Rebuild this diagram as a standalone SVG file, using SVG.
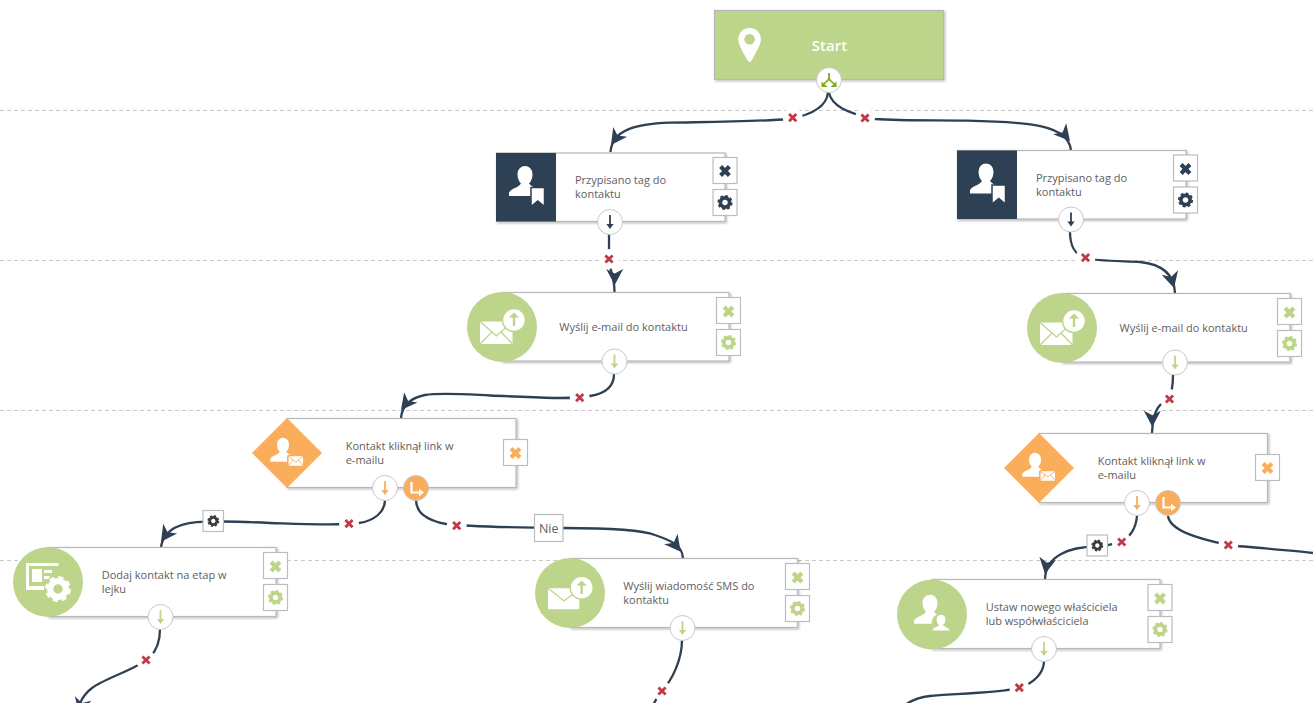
<svg xmlns="http://www.w3.org/2000/svg" xmlns:xlink="http://www.w3.org/1999/xlink" width="1313" height="703" viewBox="0 0 1313 703">
<style>
text{font-family:"Open Sans","Noto Sans","Liberation Sans",sans-serif;font-size:11px;fill:#606060}
.dash{stroke:#c9c9c9;stroke-width:1;stroke-dasharray:4 3;fill:none}
.c{fill:none;stroke:#2e4053;stroke-width:2.3;stroke-linecap:butt}
.box{fill:#fff;stroke:#b7b7b7;stroke-width:1.2;filter:url(#sh)}
.btn{fill:#fff;stroke:#bdbdbd;stroke-width:1.2}
.port{fill:#fff;stroke:#c8c8c8;stroke-width:1}
.dk{color:#2e4053}.gr{color:#bdd58b}.or{color:#faae5b}.gy{color:#3c3c3c}
.green{fill:#bdd58b}.orange{fill:#faae5b}.dark{fill:#2e4053}
</style>
<defs>
<filter id="sh" x="-5%" y="-5%" width="110%" height="115%"><feDropShadow dx="1.2" dy="1.2" stdDeviation="0.8" flood-color="#000" flood-opacity="0.3"/></filter>
<path id="ah" d="M0 0L-16 -8.500L-11.500 0L-16 8.500Z" fill="#2e4053"/>
<g id="x"><circle r="10" fill="#fff"/><path d="M-3.600 -3.600L3.600 3.600M-3.600 3.600L3.600 -3.600" fill="none" stroke="#bf3a45" stroke-width="2.800"/></g>
<path id="bx" d="M-4.400 -4.400L4.400 4.400M-4.400 4.400L4.400 -4.400" fill="none" stroke="currentColor" stroke-width="4.200"/>
<g id="gear" fill="none" stroke="currentColor"><circle r="4.600" stroke-width="3.600"/><circle r="6.700" stroke-width="1.800" stroke-dasharray="2.900 2.360"/></g>
<g id="down"><path d="M0 -7V3" fill="none" stroke="currentColor" stroke-width="1.800"/><path d="M-3.600 2H3.600L0 7Z" fill="currentColor"/></g>
<g id="turn"><path d="M-4.500 -6V4.500H4" fill="none" stroke="#fff" stroke-width="2.200"/><path d="M3 0.800L8 4.500L3 8.200Z" fill="#fff"/></g>
<path id="person" fill="#fff" d="M-16 21V17.500C-13 13 -7 13 -4 8.500Q-7.500 5 -7.500 -1A7.500 8 0 0 1 7.500 -1Q7.500 5 4 8.500C6 11 8 12 11 13V21Z"/>
<path id="pbody" fill="#fff" d="M-8.500 9.500C-8 6 -3 6 -2 4Q-4.500 2 -4.500 -1.500A4.500 4.800 0 0 1 4.500 -1.500Q4.500 2 2 4C3 6 8 6 8.500 9.500Z"/>
<g id="tagico"><use href="#person"/><path d="M6 12.500H19.500V31.500L12.800 26L6 31.500Z" fill="#fff" stroke="#2e4053" stroke-width="1.500"/></g>
<g id="mailup"><rect x="-22" y="-5.500" width="32.500" height="22.500" rx="0.500" fill="#fff"/><path d="M-22 -5.500L-5.500 9L10.500 -5.500M-22 17L-10 5M10.500 17L-1 5" fill="none" stroke="#bdd58b" stroke-width="1.300"/><circle cx="12" cy="-7" r="11.500" fill="#fff" stroke="#bdd58b" stroke-width="1.500"/><path d="M12 -1V-11" stroke="#bdd58b" stroke-width="2.400" fill="none"/><path d="M6.800 -9.500L12 -14.500L17.200 -9.500Z" fill="#bdd58b"/></g>
<g id="smsup"><rect x="-22" y="-4.700" width="31.300" height="21" rx="1.500" fill="#fff"/><path d="M-22 -5L-6 8L10 -4" fill="none" stroke="#bdd58b" stroke-width="1.300"/><circle cx="11.700" cy="-5.300" r="11.500" fill="#fff" stroke="#bdd58b" stroke-width="1.500"/><path d="M11.700 1V-9" stroke="#bdd58b" stroke-width="2.400" fill="none"/><path d="M6.500 -7.500L11.700 -12.500L16.900 -7.500Z" fill="#bdd58b"/></g>
<g id="clickico"><use href="#person" transform="translate(-4 -8) scale(.8)"/><rect x="0.800" y="2.500" width="16" height="11" rx="1.200" fill="#fff" stroke="#faae5b" stroke-width="1.500"/><path d="M1 3L8.800 9L16.500 3M1 13L6 7M16.500 13L11.500 7" fill="none" stroke="#faae5b" stroke-width="0.900"/></g>
</defs>

<g id="grid">
<path class="dash" d="M0 110.500H1313M0 260.500H1313M0 410.500H1313M0 560.500H1313"/>
</g>

<g id="connectors">
<path class="c" d="M828 92C827 108 810 115 790 119C750 122 700 122 670 122.700C635 124 612 130 610.500 152"/>
<path class="c" d="M829 93C832 105 845 113 875 119C905 121 940 120 967 120.700C1030 122 1068 125 1071 150"/>
<path class="c" d="M609 234V258C609 270 614.500 275 614.500 292"/>
<path class="c" d="M1070 232C1070 245 1075 255 1085 258C1095 261 1120 261 1140 262C1160 264 1174 272 1175 293"/>
<path class="c" d="M614 374C614 388 603 394 590 396C570 400 530 397 490 395.500C460 394 440 392.500 425 395C410 398 402 406 401 418"/>
<path class="c" d="M1173 375C1173 385 1172 392 1169 399C1160 403.500 1153 408 1152 433"/>
<path class="c" d="M385 500C385 512 374 521 359 523C340 526 300 524 270 523C250 522 235 521.500 222 521.500C195 521 165 522 161 547"/>
<path class="c" d="M416 500C416 514 430 521 446 524C470 527 510 527.500 563 528C600 528 640 529 655 535C672 541 682 545 683 558"/>
<path class="c" d="M1137 516C1136 528 1130 538 1121 541C1115 544 1105 546 1096 546.500C1070 547 1046 555 1045 579"/>
<path class="c" d="M1168 516C1170 530 1195 538 1228 545C1255 548 1290 550 1313 553"/>
<path class="c" d="M160 629C160 640 157 650 150 657C140 668 105 678 92 688C84 694 79 703 78 712"/>
<path class="c" d="M682 640C682 660 672 680 662 691C658 696 655 700 653 706"/>
<path class="c" d="M1044 661C1044 672 1035 683 1019 688C1000 693 950 694 930 696C920 697 912 700 905 705"/>
<use href="#ah" transform="translate(611 145) rotate(125)"/>
<use href="#ah" transform="translate(1070 141) rotate(50)"/>
<use href="#ah" transform="translate(614.700 285) rotate(90)"/>
<use href="#ah" transform="translate(1174 288) rotate(75)"/>
<use href="#ah" transform="translate(401 410) rotate(128)"/>
<use href="#ah" transform="translate(1152.300 426.700) rotate(90)"/>
<use href="#ah" transform="translate(161 541.700) rotate(125)"/>
<use href="#ah" transform="translate(680.700 551.700) rotate(52)"/>
<use href="#ah" transform="translate(1045 574) rotate(100)"/>
<use href="#ah" transform="translate(79 714) rotate(105)"/>
<use href="#x" x="792.700" y="117.700"/>
<use href="#x" x="865" y="118"/>
<use href="#x" x="609" y="259"/>
<use href="#x" x="1085.500" y="257.700"/>
<use href="#x" x="579.700" y="397.700"/>
<use href="#x" x="1169.500" y="399"/>
<use href="#x" x="349" y="523.700"/>
<use href="#x" x="456.700" y="525.700"/>
<use href="#x" x="1121.700" y="542"/>
<use href="#x" x="1228.300" y="545"/>
<use href="#x" x="146" y="660"/>
<use href="#x" x="662" y="691"/>
<use href="#x" x="1019.300" y="687.700"/>
<g class="gy"><rect x="203" y="510.500" width="20.500" height="21" class="btn"/><use href="#gear" transform="translate(213.300 521) scale(.78)"/></g>
<g class="gy"><rect x="1087" y="535" width="20.500" height="21" class="btn"/><use href="#gear" transform="translate(1097.300 545.500) scale(.78)"/></g>
<g><rect x="534.500" y="514.500" width="28.500" height="27" class="btn"/><text x="548.700" y="532.800" text-anchor="middle" style="font-size:12.500px">Nie</text></g>
</g>

<g id="node-start">
<rect x="714.500" y="10.500" width="229" height="69" class="box" style="fill:#bdd58b"/>
<path fill="#fff" d="M738.300 39.300a11.300 11.300 0 0 1 22.600 0c0 6 -7 17 -9.500 21.500a2 2 0 0 1 -3.600 0c-2.500 -4.500 -9.500 -15.500 -9.500 -21.500z"/>
<circle cx="749.600" cy="39.300" r="5.300" fill="#bdd58b"/>
<text x="829.500" y="50.500" text-anchor="middle" style="font-size:15px;font-weight:600;fill:#fff">Start</text>
<circle cx="829" cy="80" r="12.500" class="port"/>
<path d="M829 73V78C829 81 826 81 824 84M829 78C829 81 832 81 834 84" fill="none" stroke="#7fae10" stroke-width="1.800"/>
<path d="M821.500 81.500V87H827.500ZM836.500 81.500V87H830.500Z" fill="#7fae10"/>
</g>

<g id="node-tag-1">
<rect x="496.500" y="153" width="228.500" height="68.500" class="box"/>
<rect x="496" y="153" width="60" height="68.500" class="dark"/>
<use href="#tagico" x="525" y="175"/>
<text x="575" y="184">Przypisano tag do</text><text x="575" y="198.300">kontaktu</text>
<g class="dk"><rect x="713" y="157.500" width="24" height="26" class="btn"/><use href="#bx" x="725" y="171"/><rect x="713" y="189.500" width="24" height="26" class="btn"/><use href="#gear" x="725" y="202.500"/></g>
<g class="dk"><circle cx="610" cy="222" r="12.500" class="port"/><use href="#down" x="610" y="222"/></g>
</g>

<g id="node-tag-2">
<rect x="957.500" y="150.500" width="228.500" height="68.500" class="box"/>
<rect x="957" y="150.500" width="60" height="68.500" class="dark"/>
<use href="#tagico" x="986" y="172.500"/>
<text x="1036" y="182">Przypisano tag do</text><text x="1036" y="196">kontaktu</text>
<g class="dk"><rect x="1173.500" y="155" width="24" height="26" class="btn"/><use href="#bx" x="1185.500" y="169"/><rect x="1173.500" y="187" width="24" height="26" class="btn"/><use href="#gear" x="1185.500" y="200"/></g>
<g class="dk"><circle cx="1071" cy="219.500" r="12.500" class="port"/><use href="#down" x="1071" y="219.500"/></g>
</g>

<g id="node-email-1">
<rect x="502" y="292.500" width="227" height="68.500" class="box"/>
<circle cx="502" cy="327" r="35" class="green"/>
<use href="#mailup" x="502" y="327"/>
<text x="559.300" y="331">Wyślij e-mail do kontaktu</text>
<g class="gr"><rect x="716.500" y="297.500" width="24" height="26" class="btn"/><use href="#bx" x="728.500" y="311.500"/><rect x="716.500" y="329.500" width="24" height="26" class="btn"/><use href="#gear" x="728.500" y="342.500"/></g>
<g class="gr"><circle cx="614.500" cy="361.500" r="12.500" class="port"/><use href="#down" x="614.500" y="361.500"/></g>
</g>

<g id="node-email-2">
<rect x="1062" y="293.500" width="228" height="68.500" class="box"/>
<circle cx="1062" cy="328" r="35" class="green"/>
<use href="#mailup" x="1062" y="328"/>
<text x="1119.500" y="332">Wyślij e-mail do kontaktu</text>
<g class="gr"><rect x="1277.500" y="298.500" width="24" height="26" class="btn"/><use href="#bx" x="1289.500" y="312.500"/><rect x="1277.500" y="330.500" width="24" height="26" class="btn"/><use href="#gear" x="1289.500" y="343.500"/></g>
<g class="gr"><circle cx="1175" cy="362.500" r="12.500" class="port"/><use href="#down" x="1175" y="362.500"/></g>
</g>

<g id="node-click-1">
<rect x="287" y="418.500" width="229" height="69" class="box"/>
<path d="M287 418L322 453L287 488L252 453Z" class="orange"/>
<use href="#clickico" x="287" y="453"/>
<text x="345.700" y="450">Kontakt kliknął link w</text><text x="345.700" y="464">e-mailu</text>
<g class="or"><rect x="503.500" y="439.500" width="24" height="26" class="btn"/><use href="#bx" x="515.500" y="453"/></g>
<g class="or"><circle cx="385" cy="488" r="12.500" class="port"/><use href="#down" x="385" y="488"/></g>
<circle cx="416" cy="488" r="12.500" class="orange" stroke="#c8c8c8"/><use href="#turn" x="416" y="488"/>
</g>

<g id="node-click-2">
<rect x="1039" y="433.500" width="228.500" height="69" class="box"/>
<path d="M1039 433L1074 468L1039 503L1004 468Z" class="orange"/>
<use href="#clickico" x="1039" y="468"/>
<text x="1097.700" y="465">Kontakt kliknął link w</text><text x="1097.700" y="479">e-mailu</text>
<g class="or"><rect x="1255.500" y="454.500" width="24" height="26" class="btn"/><use href="#bx" x="1267.500" y="468"/></g>
<g class="or"><circle cx="1137" cy="503" r="12.500" class="port"/><use href="#down" x="1137" y="503"/></g>
<circle cx="1168" cy="503" r="12.500" class="orange" stroke="#c8c8c8"/><use href="#turn" x="1168" y="503"/>
</g>

<g id="node-funnel">
<rect x="48" y="547.500" width="228" height="69" class="box"/>
<circle cx="48" cy="582" r="35" class="green"/>
<path d="M26 563H58.500V566H29V586H45V590H26Z" fill="#fff"/>
<path d="M32 569H42V582H32ZM44 570H52V573H44ZM44 576H50V579H44Z" fill="#fff"/>
<g style="color:#fff"><circle cx="58" cy="589" r="14" fill="#bdd58b"/><use href="#gear" transform="translate(58 589) scale(1.700)"/></g>
<text x="101.700" y="579">Dodaj kontakt na etap w</text><text x="101.700" y="592.700">lejku</text>
<g class="gr"><rect x="263.500" y="552.500" width="24" height="26" class="btn"/><use href="#bx" x="275.500" y="566.500"/><rect x="263.500" y="584.500" width="24" height="26" class="btn"/><use href="#gear" x="275.500" y="597.500"/></g>
<g class="gr"><circle cx="160.500" cy="617" r="12.500" class="port"/><use href="#down" x="160.500" y="617"/></g>
</g>

<g id="node-sms">
<rect x="570" y="558.500" width="227.500" height="69" class="box"/>
<circle cx="570" cy="593" r="35" class="green"/>
<use href="#smsup" x="570" y="593"/>
<text x="623.300" y="590">Wyślij wiadomość SMS do</text><text x="623.300" y="604">kontaktu</text>
<g class="gr"><rect x="785.500" y="563.500" width="24" height="26" class="btn"/><use href="#bx" x="797.500" y="577.500"/><rect x="785.500" y="595.500" width="24" height="26" class="btn"/><use href="#gear" x="797.500" y="608.500"/></g>
<g class="gr"><circle cx="682.500" cy="628" r="12.500" class="port"/><use href="#down" x="682.500" y="628"/></g>
</g>

<g id="node-owner">
<rect x="932" y="579.500" width="228" height="69" class="box"/>
<circle cx="932" cy="614.500" r="35" class="green"/>
<use href="#person" transform="translate(930 603.500) scale(1 .97)"/>
<circle cx="941" cy="623" r="9.500" class="green"/>
<use href="#pbody" x="941" y="621"/>
<text x="985.700" y="611">Ustaw nowego właściciela</text><text x="985.700" y="625">lub współwłaściciela</text>
<g class="gr"><rect x="1148" y="584.500" width="24" height="26" class="btn"/><use href="#bx" x="1160" y="598.500"/><rect x="1148" y="616.500" width="24" height="26" class="btn"/><use href="#gear" x="1160" y="629.500"/></g>
<g class="gr"><circle cx="1044" cy="649" r="12.500" class="port"/><use href="#down" x="1044" y="649"/></g>
</g>
</svg>
